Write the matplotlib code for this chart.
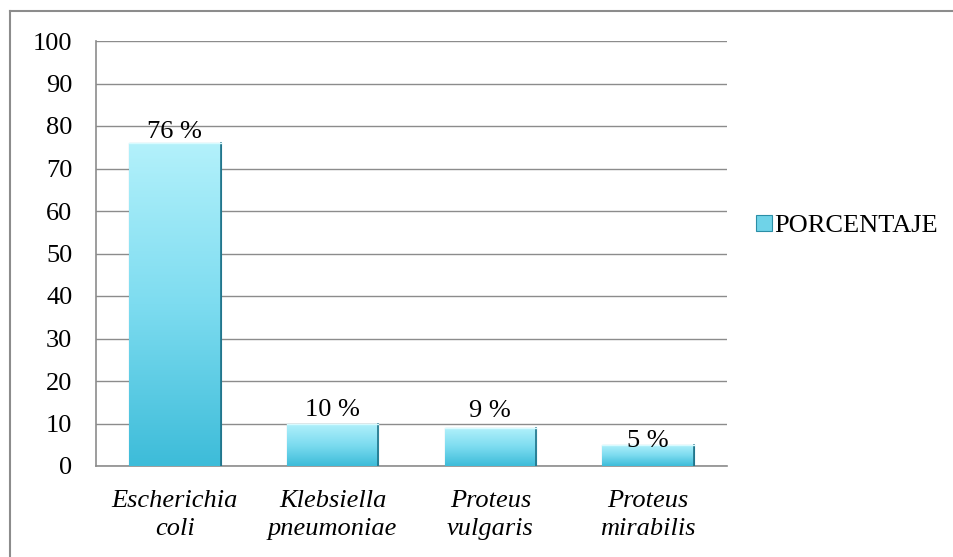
import matplotlib

matplotlib.use("Agg")
import matplotlib.pyplot as plt
import numpy as np
from matplotlib.colors import LinearSegmentedColormap
from matplotlib.lines import Line2D
from matplotlib.patches import Patch

categories = ["Escherichia\ncoli", "Klebsiella\npneumoniae", "Proteus\nvulgaris", "Proteus\nmirabilis"]
values = [76, 10, 9, 5]
labels = ["76 %", "10 %", "9 %", "5 %"]
series_name = "PORCENTAJE"
yticks = list(range(0, 101, 10))

# label offsets in points (the original labels sit unevenly)
label_dy = [0, 2, 4, -5]

FONT = "Liberation Serif"
FS = 19
GRID = "#8c8c8c"
BAR_TOP = "#b3f1fb"
BAR_MID = "#7ddcf0"
BAR_BOTTOM = "#3dbcd9"
BAR_EDGE = "#2b8ea6"

fig = plt.figure(figsize=(9.54, 5.57), dpi=100, facecolor="white")
ax = fig.add_axes([96 / 954, 1 - 466 / 557, (727 - 96) / 954, (466 - 41) / 557])

x = np.arange(len(categories))
bars = ax.bar(x, values, width=0.58, color=BAR_BOTTOM, edgecolor=BAR_EDGE, linewidth=0.8, zorder=3)

cmap = LinearSegmentedColormap.from_list("bar", [BAR_BOTTOM, BAR_MID, BAR_TOP])
grad = np.linspace(0, 1, 256).reshape(-1, 1)
for bar in bars:
    x0, y0 = bar.get_x(), bar.get_y()
    w, h = bar.get_width(), bar.get_height()
    img = ax.imshow(grad, cmap=cmap, origin="lower", aspect="auto",
                    extent=[x0, x0 + w, y0, y0 + h], zorder=3.5)
    img.set_clip_path(bar)
    # darker bevel on the right side and a light rim on top
    ax.plot([x0 + w, x0 + w], [y0, y0 + h], color="#1f7288", lw=1.2, zorder=4)
    ax.plot([x0, x0 + w], [y0 + h, y0 + h], color="#d8fbff", lw=1.0, zorder=4)

for i, (v, lab) in enumerate(zip(values, labels)):
    ax.annotate(lab, (x[i], v), xytext=(0, label_dy[i]), textcoords="offset points",
                ha="center", va="bottom", fontsize=FS, family=FONT, color="black", zorder=5)

ax.set_xlim(-0.5, len(categories) - 0.5)
ax.set_ylim(0, 100)
ax.set_yticks(yticks)
ax.set_yticklabels([str(t) for t in yticks], fontsize=FS, family=FONT)
ax.set_xticks(x)
ax.set_xticklabels(categories, fontsize=FS, family=FONT, style="italic", linespacing=1.4)
ax.tick_params(axis="both", length=0)
ax.tick_params(axis="y", pad=17)
ax.tick_params(axis="x", pad=17)
ax.grid(axis="y", color=GRID, linewidth=1)
ax.set_axisbelow(True)
for side in ["top", "right"]:
    ax.spines[side].set_visible(False)
for side in ["left", "bottom"]:
    ax.spines[side].set_color(GRID)
    ax.spines[side].set_linewidth(1.2)

handle = Patch(facecolor="#6fd3e8", edgecolor=BAR_EDGE, linewidth=0.8)
fig.legend([handle], [series_name], loc="center left", bbox_to_anchor=(756 / 954, 1 - 226 / 557),
           frameon=False, prop={"family": FONT, "size": FS}, handlelength=0.6, handleheight=0.6,
           handletextpad=0.1, borderaxespad=0, borderpad=0)

# outer chart border (top and left visible)
fig.add_artist(Line2D([10 / 954, 1], [1 - 11 / 557, 1 - 11 / 557], color=GRID, lw=1.5))
fig.add_artist(Line2D([10 / 954, 10 / 954], [0, 1 - 11 / 557], color=GRID, lw=1.5))

fig.savefig("out.png", dpi=100)
